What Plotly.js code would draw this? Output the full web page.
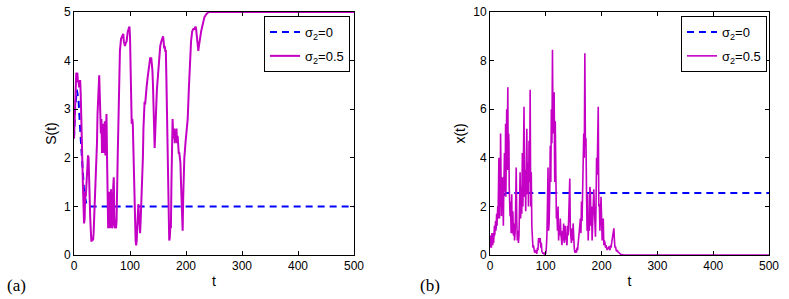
<!DOCTYPE html>
<html>
<head>
<meta charset="utf-8">
<script src="https://cdn.plot.ly/plotly-3.0.1.min.js"></script>
<style>html,body{margin:0;padding:0;background:#fff}#chart{width:789px;height:299px}</style>
</head>
<body>
<div id="chart"></div>
<script>
// Panel (a): S(t)
const tSdet = [0, 2, 5, 8, 12, 15, 18, 22, 25, 500];
const Sdet = [2.4, 3.0, 3.4, 3.2, 2.4, 1.7, 1.3, 1.05, 1.0, 1.0];

const tS = [0,1,2,3,4,5,6,7,8,9,10,11,12,13,14,15,16,17,18,19,20,21,22,23,24,25,26,27,28,29,30,31,32,33,34,35,37,39,41,42,43,44,45,46,47,48,49,50,51,52,53,54,55,56,57,58,59,60,61,62,63,64,65,66,67,68,69,70,71,72,73,74,75,76,78,80,82,84,86,88,89,90,91,92,94,96,98,99,100,101,102,103,104,105,106,107,108,109,110,111,112,113,114,115,116,117,118,119,120,121,122,123,124,125,126,127,128,129,130,132,134,136,138,140,141,142,143,144,145,146,147,148,150,152,154,156,158,159,160,161,162,163,164,165,166,167,168,169,170,171,172,173,174,175,176,177,178,179,180,181,182,183,184,185,186,187,188,189,190,191,192,193,194,195,196,197,199,201,202,203,205,207,209,211,213,215,217,218,219,220,221,222,223,225,227,229,231,233,236,240,500];
const S = [2.4,2.9,3.4,3.6,3.75,3.7,3.75,3.55,3.6,3.45,3.55,3.6,3.3,2.6,2.0,1.5,1.4,1.0,0.65,0.75,1.3,1.2,1.4,1.6,1.9,2.05,2.0,1.3,0.8,0.75,0.5,0.28,0.3,0.35,0.3,0.45,1.0,1.5,2.3,2.9,3.3,3.6,3.7,3.3,2.6,2.5,2.8,2.1,2.5,2.7,2.1,2.6,2.75,2.05,2.8,2.9,2.0,1.0,0.55,0.9,1.3,0.55,0.7,1.35,1.0,0.55,0.6,1.4,1.6,0.8,0.55,0.6,0.55,0.7,2.0,3.3,4.2,4.45,4.5,4.55,4.4,4.3,4.3,4.35,4.4,4.6,4.7,4.7,4.5,3.8,3.0,2.7,2.8,2.7,2.2,1.5,1.0,0.6,0.3,0.2,0.3,0.6,0.9,1.05,0.8,0.5,0.45,0.7,1.0,1.1,1.5,2.0,2.6,3.1,3.15,3.1,3.3,3.4,3.5,3.7,3.95,4.05,4.05,3.8,3.5,3.2,2.6,2.2,2.5,3.0,3.3,3.4,3.7,4.0,4.3,4.4,4.5,4.5,4.4,4.25,4.3,4.2,4.2,3.6,3.0,2.3,1.2,0.5,0.3,0.35,0.6,0.55,1.5,2.4,2.8,2.5,2.4,2.6,2.3,2.55,2.4,2.6,2.3,2.45,2.2,2.1,2.1,2.0,1.9,1.5,1.0,0.6,0.5,1.2,1.8,2.0,2.3,2.6,2.7,2.8,3.4,4.0,4.4,4.6,4.65,4.65,4.7,4.65,4.5,4.3,4.2,4.2,4.3,4.5,4.6,4.7,4.8,4.9,4.95,5.0,5.0];

// Panel (b): x(t)
const tXdet = [0, 4, 8, 12, 16, 20, 24, 28, 500];
const Xdet = [0.6, 0.65, 0.9, 1.3, 1.9, 2.3, 2.45, 2.55, 2.55];

const tX = [0,0.5,1,1.5,2,2.5,3,3.5,4,4.5,5,5.5,6,6.5,7,7.5,8,8.5,9,9.5,
10,10.5,11,11.5,12,12.5,13,13.5,14,14.5,15,15.5,16,16.5,17,17.5,18,18.5,19,19.5,
20,20.5,21,21.5,22,22.5,23,23.5,24,24.5,25,25.5,26,26.5,27,27.5,28,28.5,29,29.5,
30,30.5,31,31.5,32,32.5,33,33.5,34,34.5,35,35.5,36,36.5,37,37.5,38,38.5,39,39.5,
40,41,42,43,44,45,46,47,48,49,50,51,52,53,54,55,56,57,58,59,60,61,62,63,64,65,66,67,68,69,70,71,72,73,74,75,76,77,78,79,80,81,82,83,84,85,86,87,88,89,90,91,92,93,94,95,96,97,98,99,100,101,102,103,104,105,106,107,108,109,110,111,112,113,114,115,116,117,118,119,120,121,122,123,124,125,126,127,128,129,130,131,132,133,134,135,136,137,138,139,140,141,142,143,144,145,146,147,148,149,150,151,152,153,154,155,156,157,158,159,160,161,162,163,164,165,166,167,168,169,170,171,172,173,174,175,176,177,178,179,180,181,182,183,184,185,186,187,188,189,190,191,192,193,194,195,196,197,198,199,200,201,202,203,204,205,206,207,208,209,210,211,212,213,214,215,216,217,218,219,220,221,222,223,224,225,226,227,228,229,230,231,232,233,234,235,236,237,238,239,240,500];
const X = [0.6,0.3,0.8,0.4,0.7,0.3,0.6,0.9,0.5,0.7,0.4,0.8,0.9,0.5,1.0,0.6,1.2,0.8,1.1,0.9,
1.4,1.0,1.5,1.1,1.7,1.2,1.6,1.3,2.0,1.5,2.6,1.8,4.0,2.2,1.5,2.6,3.0,2.0,5.0,2.8,
2.3,1.6,3.0,2.0,1.9,3.2,2.8,1.5,1.2,2.2,3.3,2.4,4.2,2.9,2.6,3.8,5.4,2.4,3.1,4.5,
6.0,3.5,4.2,5.8,6.9,4.0,3.5,5.0,4.6,2.8,2.4,1.9,1.6,2.2,1.3,1.0,0.9,1.6,2.5,1.2,
0.9,1.8,0.8,1.3,0.6,0.9,2.0,3.6,1.4,0.6,
1.0,0.5,0.8,2.0,3.4,1.5,2.8,1.7,4.2,2.0,
4.3,6.1,2.4,3.5,1.8,4.5,5.2,2.5,3.8,2.0,
4.7,3.0,6.8,2.0,3.4,1.2,0.6,0.3,0.4,0.2,
0.1,0.15,0.2,0.1,0.05,0.3,0.2,0.7,0.5,0.6,
0.7,0.3,0.5,0.15,0.1,0.05,0.1,0.02,0.05,0.1,
0.05,0.3,0.8,2.0,3.6,1.0,1.3,2.5,4.5,3.0,
6.0,4.6,8.45,5.0,5.4,6.7,3.0,5.5,4.0,1.5,
1.7,1.0,2.0,0.6,1.2,0.8,1.5,0.9,0.5,0.4,
1.0,0.6,1.3,0.5,0.9,1.2,0.7,0.5,0.4,1.2,
0.8,1.5,2.0,3.15,1.0,0.7,0.5,1.1,0.6,1.3,
0.5,0.3,0.1,0.15,0.2,0.1,0.3,0.2,0.5,0.6,
0.7,1.0,1.5,0.9,2.2,1.4,3.0,2.5,5.0,4.0,
8.3,4.5,4.8,2.5,1.0,2.5,0.6,1.5,1.0,2.8,
2.6,1.2,2.0,0.6,1.8,1.4,2.7,2.0,1.0,0.75,
2.0,4.0,3.3,5.3,6.1,2.0,2.1,1.0,1.8,2.4,
1.5,0.6,0.75,1.5,0.4,0.6,0.5,0.3,0.4,0.3,
0.2,0.3,0.25,0.35,0.3,0.2,0.4,0.3,0.5,0.7,
0.9,1.1,1.1,0.6,0.3,0.35,0.2,0.15,0.2,0.1,
0.1,0.1,0.05,0.05,0.03,0.02,0.02,0.01,0.01,0,
0,0];

const xTicks = [0, 100, 200, 300, 400, 500];
const ySTicks = [0, 1, 2, 3, 4, 5];
const yXTicks = [0, 2, 4, 6, 8, 10];
const legendNames = ['σ<sub>2</sub>=0', 'σ<sub>2</sub>=0.5'];

const BLUE = '#0000FF', MAG = '#C400C4';
const traces = [
  {x: tSdet, y: Sdet, xaxis: 'x', yaxis: 'y', mode: 'lines', name: legendNames[0], legend: 'legend', legendgroup: 'a0',
   line: {color: BLUE, width: 2, dash: '7px,5px'}},
  {x: tS, y: S, xaxis: 'x', yaxis: 'y', mode: 'lines', name: legendNames[1], legend: 'legend', legendgroup: 'a1',
   line: {color: MAG, width: 2}},
  {x: tXdet, y: Xdet, xaxis: 'x2', yaxis: 'y2', mode: 'lines', name: legendNames[0], legend: 'legend2', legendgroup: 'b0',
   line: {color: BLUE, width: 2, dash: '7px,5px'}},
  {x: tX, y: X, xaxis: 'x2', yaxis: 'y2', mode: 'lines', name: legendNames[1], legend: 'legend2', legendgroup: 'b1',
   line: {color: MAG, width: 1.6}}
];

const FONT = 'Liberation Sans, Arial, sans-serif';
const axBase = {
  showline: true, linecolor: '#000', linewidth: 1, mirror: 'ticks',
  ticks: 'inside', ticklen: 4, tickcolor: '#000', showgrid: false, zeroline: false,
  tickfont: {family: FONT, size: 12, color: '#000'},
  fixedrange: true
};
const legBase = {
  bgcolor: '#fff', bordercolor: '#000', borderwidth: 1,
  font: {family: FONT, size: 13, color: '#000'},
  xanchor: 'right', yanchor: 'top', itemwidth: 30, tracegroupgap: 4
};
const titleFont = {family: FONT, size: 14, color: '#000'};

const layout = {
  width: 789, height: 299,
  margin: {l: 0, r: 0, t: 12, b: 44},
  paper_bgcolor: '#fff', plot_bgcolor: '#fff',
  showlegend: true,
  xaxis: Object.assign({}, axBase, {domain: [0.0938, 0.4487], range: [0, 500], tickvals: xTicks, anchor: 'y',
    title: {text: 't', font: titleFont, standoff: 3}}),
  yaxis: Object.assign({}, axBase, {domain: [0, 1], range: [0, 5], tickvals: ySTicks, anchor: 'x',
    title: {text: 'S(t)', font: titleFont, standoff: 4}}),
  xaxis2: Object.assign({}, axBase, {domain: [0.6210, 0.9747], range: [0, 500], tickvals: xTicks, anchor: 'y2',
    title: {text: 't', font: titleFont, standoff: 3}}),
  yaxis2: Object.assign({}, axBase, {domain: [0, 1], range: [0, 10], tickvals: yXTicks, anchor: 'x2',
    title: {text: 'x(t)', font: titleFont, standoff: 4}}),
  legend: Object.assign({}, legBase, {x: 0.4436, y: 0.9835}),
  legend2: Object.assign({}, legBase, {x: 0.9721, y: 0.9835}),
  annotations: [
    {text: '(a)', xref: 'paper', yref: 'paper', x: 0.0215, y: -0.1235, showarrow: false,
     xanchor: 'center', yanchor: 'middle', font: {family: 'Liberation Serif, Times New Roman, serif', size: 17, color: '#000'}},
    {text: '(b)', xref: 'paper', yref: 'paper', x: 0.545, y: -0.1235, showarrow: false,
     xanchor: 'center', yanchor: 'middle', font: {family: 'Liberation Serif, Times New Roman, serif', size: 17, color: '#000'}}
  ]
};

Plotly.newPlot('chart', traces, layout, {staticPlot: true, displayModeBar: false});
</script>
</body>
</html>
